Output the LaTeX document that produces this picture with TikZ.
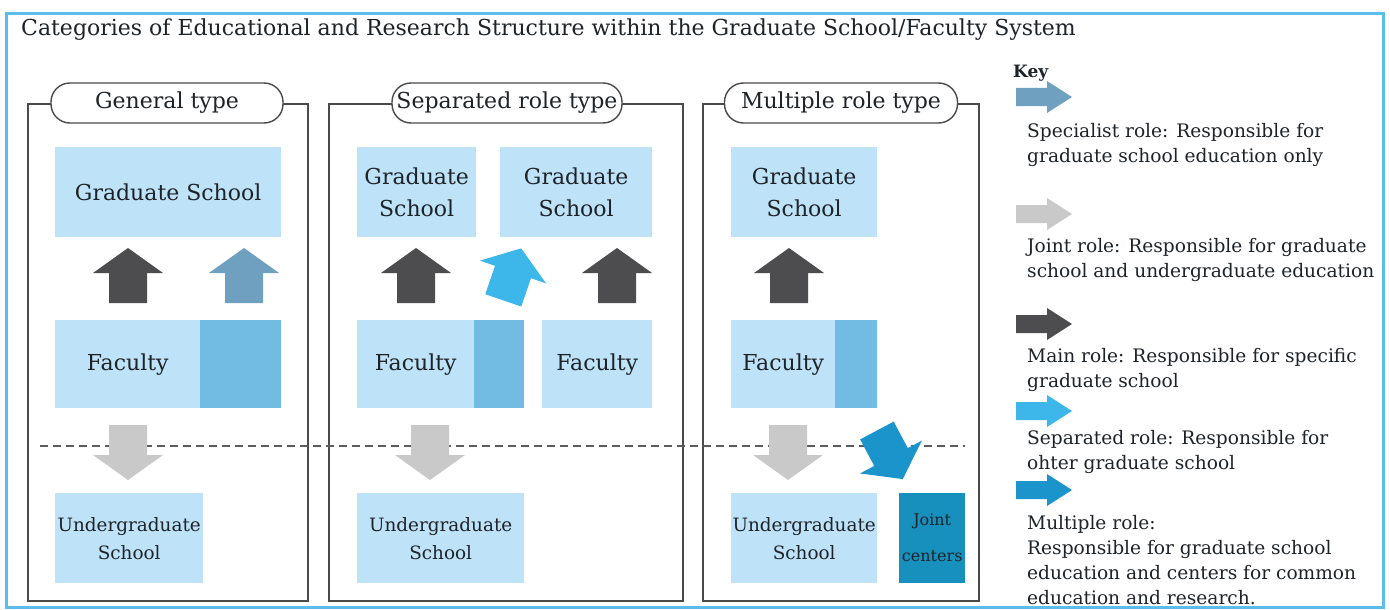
\documentclass[tikz,border=0pt]{standalone}
\usepackage{fontspec}
\setmainfont{DejaVu Serif}
\definecolor{lightbox}{HTML}{BEE3F8}
\definecolor{facdark}{HTML}{72BBE2}
\definecolor{darkarr}{HTML}{4D4D4F}
\definecolor{steelarr}{HTML}{6FA0C0}
\definecolor{grayarr}{HTML}{C9C9C9}
\definecolor{skyarr}{HTML}{3DB7EA}
\definecolor{multiarr}{HTML}{1B93CB}
\definecolor{jointc}{HTML}{1890BE}
\definecolor{framec}{HTML}{5CBDEA}
\definecolor{panelc}{HTML}{4A4A4A}
\definecolor{textc}{HTML}{1E2328}
\tikzset{
  framebox/.style={draw=framec, line width=3pt, inner sep=0, anchor=north west},
  panelbox/.style={draw=panelc, line width=1.8pt, inner sep=0, anchor=north west},
  pill/.style={draw=panelc, line width=1.4pt, fill=white, rounded corners=19pt, minimum height=40pt, inner sep=0, font=\pillfont, text=textc},
  lbox/.style={fill=lightbox, inner sep=0, anchor=north west, align=center, text=textc, font=\boxfont},
  dbox/.style={fill=facdark, inner sep=0, anchor=north west},
  ubox/.style={fill=lightbox, inner sep=0, anchor=north west, align=center, text=textc, font=\ugfont},
  keytext/.style={anchor=west, align=left, text=textc, font=\keyfont, inner sep=0},
  dashline/.style={draw=panelc!90, line width=1.3pt, dash pattern=on 8pt off 5pt},
  uparr/.pic={\fill[#1] (-19,30) -- (-19,0) -- (-35,0) -- (0,-25) -- (35,0) -- (19,0) -- (19,30) -- cycle;},
  dnarr/.pic={\fill[#1] (-19,-30) -- (-19,0) -- (-35,0) -- (0,25) -- (35,0) -- (19,0) -- (19,-30) -- cycle;},
  rarr/.pic={\fill[#1] (-28,-9) -- (3,-9) -- (3,-16) -- (28,0) -- (3,16) -- (3,9) -- (-28,9) -- cycle;}
}
\newcommand\titlefont{\fontsize{22}{26}\selectfont}
\newcommand\pillfont{\fontsize{22}{26}\selectfont}
\newcommand\boxfont{\fontsize{22}{32}\selectfont}
\newcommand\ugfont{\fontsize{18.4}{28}\selectfont}
\newcommand\keyfont{\fontsize{18.6}{25}\selectfont}
\newcommand\jointfont{\fontsize{16}{36}\selectfont}
\begin{document}
\begin{tikzpicture}[x=1pt,y=-1pt]
\useasboundingbox (0,0) rectangle (1390,610);
\fill[white] (0,0) rectangle (1390,610);
\node[framebox, minimum width=1377pt, minimum height=594pt] (frame) at (5,12) {};
\node[anchor=west, text=textc, font=\titlefont, inner sep=0] (title) at (21,30)
  {Categories of Educational and Research Structure within the Graduate School/Faculty System};

% panels
\node[panelbox, minimum width=280pt, minimum height=497pt] (p1) at (27,103) {};
\node[panelbox, minimum width=354pt, minimum height=497pt] (p2) at (328,103) {};
\node[panelbox, minimum width=276pt, minimum height=497pt] (p3) at (702,103) {};

% dashed line
\coordinate (dl) at (40,446);
\coordinate (dr) at (965,446);
\draw[dashline] (dl) -- (dr);

% pills
\node[pill, minimum width=232pt] (t1) at (167,103) {General type};
\node[pill, minimum width=230pt] (t2) at (507,103) {Separated role type};
\node[pill, minimum width=233pt] (t3) at (841,103) {Multiple role type};

% panel 1
\node[lbox, minimum width=226pt, minimum height=90pt] (g1) at (55,147) {Graduate School};
\node[lbox, minimum width=145pt, minimum height=88pt] (f1) at (55,320) {Faculty};
\node[dbox, minimum width=81pt, minimum height=88pt] (f1d) at (200,320) {};
\node[ubox, minimum width=148pt, minimum height=90pt] (u1) at (55,493) {Undergraduate\\School};
\pic at (128,273) {uparr=darkarr};
\pic at (244,273) {uparr=steelarr};
\pic at (128,455) {dnarr=grayarr};

% panel 2
\node[lbox, minimum width=119pt, minimum height=90pt] (g2a) at (357,147) {Graduate\\School};
\node[lbox, minimum width=152pt, minimum height=90pt] (g2b) at (500,147) {Graduate\\School};
\node[lbox, minimum width=117pt, minimum height=88pt] (f2a) at (357,320) {Faculty};
\node[dbox, minimum width=50pt, minimum height=88pt] (f2ad) at (474,320) {};
\node[lbox, minimum width=110pt, minimum height=88pt] (f2b) at (542,320) {Faculty};
\node[ubox, minimum width=167pt, minimum height=90pt] (u2) at (357,493) {Undergraduate\\School};
\pic at (416,273) {uparr=darkarr};
\pic at (617,273) {uparr=darkarr};
\pic[rotate=-19] at (513,272) {uparr=skyarr};
\pic at (430,455) {dnarr=grayarr};

% panel 3
\node[lbox, minimum width=146pt, minimum height=90pt] (g3) at (731,147) {Graduate\\School};
\node[lbox, minimum width=104pt, minimum height=88pt] (f3) at (731,320) {Faculty};
\node[dbox, minimum width=42pt, minimum height=88pt] (f3d) at (835,320) {};
\node[ubox, minimum width=146pt, minimum height=90pt] (u3) at (731,493) {Undergraduate\\School};
\node[fill=jointc, inner sep=0, anchor=north west, minimum width=66pt, minimum height=90pt,
      align=center, text=textc, font=\jointfont] (j3) at (899,493) {Joint\\centers};
\pic at (789,273) {uparr=darkarr};
\pic at (788,455) {dnarr=grayarr};
\pic[rotate=28] at (891,457) {dnarr=multiarr};

% key
\node[anchor=west, text=textc, font=\fontsize{17}{20}\selectfont\bfseries, inner sep=0] (key) at (1013,73) {Key};
\pic at (1044,97) {rarr=steelarr};
\node[keytext] (k1) at (1027,145) {Specialist role: Responsible for\\graduate school education only};
\pic at (1044,214) {rarr=grayarr};
\node[keytext] (k2) at (1027,260) {Joint role: Responsible for graduate\\school and undergraduate education};
\pic at (1044,324) {rarr=darkarr};
\node[keytext] (k3) at (1027,370) {Main role: Responsible for specific\\graduate school};
\pic at (1044,411) {rarr=skyarr};
\node[keytext] (k4) at (1027,452) {Separated role: Responsible for\\ohter graduate school};
\pic at (1044,490) {rarr=multiarr};
\node[keytext] (k5) at (1027,560) {Multiple role:\\Responsible for graduate school\\education and centers for common\\education and research.};
\end{tikzpicture}
\end{document}
